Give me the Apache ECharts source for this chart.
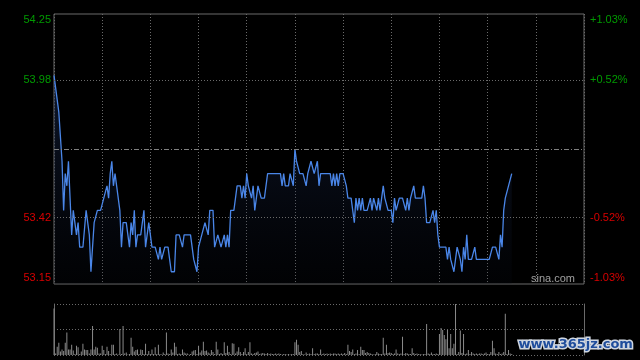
<!DOCTYPE html>
<html>
<head>
<meta charset="utf-8">
<script src="https://cdn.jsdelivr.net/npm/echarts@6/dist/echarts.min.js"></script>
<style>
html,body{margin:0;padding:0;background:#000;}
#chart{width:640px;height:360px;}
</style>
</head>
<body>
<div id="chart"></div>
<script>
// ---- data ----
var prevClose = 53.70;
var priceMin = 53.15;
var priceMax = 54.25;
var totalMinutes = 330;
var leftTickValues = [53.15, 53.42, 53.98, 54.25];
var leftTickLabels = ['53.15', '53.42', '53.98', '54.25'];
var rightTickLabels = ['-1.03%', '-0.52%', '+0.52%', '+1.03%'];
var gridLineValues = [53.42, 53.98];
var prices = [
54.00,53.95,53.90,53.85,53.85,53.65,53.45,53.60,53.55,53.65,
53.50,53.35,53.45,53.45,53.35,53.40,53.30,53.30,53.30,53.30,
53.45,53.45,53.35,53.20,53.20,53.40,53.40,53.45,53.45,53.45,
53.45,53.50,53.50,53.55,53.50,53.60,53.65,53.55,53.60,53.55,
53.55,53.45,53.30,53.40,53.40,53.40,53.40,53.30,53.40,53.35,
53.45,53.30,53.35,53.35,53.35,53.40,53.45,53.30,53.35,53.40,
53.40,53.30,53.30,53.30,53.30,53.25,53.30,53.25,53.25,53.30,
53.30,53.30,53.25,53.20,53.20,53.20,53.35,53.35,53.35,53.35,
53.30,53.35,53.35,53.35,53.35,53.35,53.30,53.25,53.25,53.20,
53.30,53.30,53.35,53.35,53.40,53.40,53.35,53.45,53.45,53.45,
53.30,53.30,53.35,53.35,53.30,53.30,53.35,53.30,53.35,53.30,
53.45,53.45,53.45,53.45,53.55,53.55,53.55,53.50,53.55,53.50,
53.60,53.55,53.55,53.50,53.55,53.45,53.50,53.55,53.55,53.50,
53.50,53.50,53.55,53.60,53.60,53.60,53.60,53.60,53.60,53.60,
53.60,53.60,53.55,53.60,53.55,53.55,53.55,53.60,53.60,53.55,
53.70,53.65,53.65,53.60,53.60,53.60,53.60,53.55,53.60,53.60,
53.65,53.65,53.60,53.60,53.65,53.55,53.60,53.60,53.60,53.60,
53.60,53.60,53.60,53.55,53.60,53.55,53.60,53.55,53.60,53.60,
53.60,53.60,53.55,53.50,53.50,53.50,53.45,53.40,53.50,53.45,
53.50,53.45,53.50,53.45,53.45,53.45,53.45,53.50,53.45,53.50,
53.50,53.45,53.50,53.45,53.45,53.55,53.50,53.50,53.45,53.45,
53.45,53.40,53.50,53.45,53.45,53.50,53.50,53.50,53.50,53.45,
53.50,53.45,53.50,53.50,53.55,53.50,53.50,53.50,53.50,53.50,
53.55,53.50,53.40,53.40,53.40,53.40,53.45,53.40,53.45,53.35,
53.30,53.30,53.30,53.30,53.30,53.25,53.30,53.25,53.25,53.20,
53.25,53.30,53.30,53.25,53.20,53.30,53.25,53.35,53.25,53.25,
53.25,53.25,53.30,53.25,53.25,53.25,53.25,53.25,53.25,53.25,
53.25,53.25,53.25,53.30,53.30,53.30,53.30,53.25,53.35,53.30,
53.45,53.50,53.50,53.55,53.55,53.60
];
var volumes = [
91,3,16,24,7,11,8,24,44,11,
11,20,9,2,18,15,2,7,22,11,
10,10,3,11,57,11,16,14,3,3,
18,10,2,16,8,2,20,20,2,3,
1,51,2,57,3,5,1,2,34,16,
7,10,11,2,11,10,2,22,2,8,
2,11,2,15,2,20,2,1,5,2,
44,3,2,11,5,24,16,2,3,2,
11,5,3,3,1,2,7,9,10,2,
18,5,9,26,8,9,5,3,10,6,
2,26,11,2,4,2,25,4,18,6,
2,23,22,3,7,15,6,2,6,13,
2,6,25,3,2,4,5,7,2,3,
4,3,2,4,2,3,2,2,3,2,
3,2,1,2,2,1,2,1,2,2,
25,30,20,6,8,2,1,5,2,3,
2,13,2,3,3,2,11,2,3,2,
3,2,3,2,3,3,2,3,2,3,
2,4,2,20,8,6,11,2,3,10,
2,16,10,10,4,6,4,3,2,1,
2,6,3,2,2,34,3,20,4,5,
4,2,3,11,3,2,3,36,2,4,
3,2,2,13,4,2,3,2,2,1,
2,2,61,3,2,5,2,2,3,2,
41,53,49,39,31,49,13,41,13,22,
100,2,6,48,4,41,2,3,10,2,
6,3,2,3,2,3,3,2,3,5,
2,2,6,28,13,3,2,6,2,3,
6,81,2,10,3,2
];
var volumeMax = 100;

// ---- build ----
var pricePts = prices.map(function (v, i) { return [i, v]; });
var volPts = volumes.map(function (v, i) { return [i, v]; });

var font = '"Liberation Sans", Arial, sans-serif';
var green = '#009a00', red = '#d80000';

function richFor(v, text) {
  var isUp = v > prevClose;
  var key = (isUp ? 'g' : 'r');
  if (v === priceMax) key += 't';
  if (v === priceMin) key += 'b';
  return '{' + key + '|' + text + '}';
}
var rich = {
  g: {color: green, fontSize: 11, fontFamily: font},
  r: {color: red, fontSize: 11, fontFamily: font},
  gt: {color: green, fontSize: 11, fontFamily: font, padding: [12, 0, 0, 0]},
  rb: {color: red, fontSize: 11, fontFamily: font, padding: [0, 0, 12, 0]}
};

var chart = echarts.init(document.getElementById('chart'), null, {renderer: 'canvas'});
chart.setOption({
  backgroundColor: '#000',
  animation: false,
  grid: [
    {left: 54, right: 56, top: 14, height: 270, show: true, borderColor: '#6a6a6a', borderWidth: 1, backgroundColor: 'transparent'},
    {left: 54, right: 56, top: 304, height: 51, show: false}
  ],
  xAxis: [
    {type: 'value', gridIndex: 0, min: 0, max: totalMinutes, interval: 30,
     axisLine: {show: false}, axisTick: {show: false}, axisLabel: {show: false},
     splitLine: {show: true, lineStyle: {color: '#6a6a6a', type: [1, 2], width: 1}}},
    {type: 'value', gridIndex: 1, min: 0, max: totalMinutes,
     axisLine: {show: false}, axisTick: {show: false}, axisLabel: {show: false}, splitLine: {show: false}}
  ],
  yAxis: [
    {type: 'value', gridIndex: 0, min: priceMin, max: priceMax, position: 'left',
     axisLine: {show: false}, axisTick: {show: false, customValues: leftTickValues}, splitLine: {show: false},
     axisLabel: {show: true, customValues: leftTickValues, margin: 3, rich: rich,
       formatter: function (v) { var k = leftTickValues.indexOf(v); return richFor(v, leftTickLabels[k]); }}},
    {type: 'value', gridIndex: 0, min: priceMin, max: priceMax, position: 'right',
     axisLine: {show: false}, axisTick: {show: false, customValues: leftTickValues}, splitLine: {show: false},
     axisLabel: {show: true, customValues: leftTickValues, margin: 6, rich: rich,
       formatter: function (v) { var k = leftTickValues.indexOf(v); return richFor(v, rightTickLabels[k]); }}},
    {type: 'value', gridIndex: 1, min: 0, max: volumeMax, interval: volumeMax / 2, position: 'left',
     axisLine: {show: true, lineStyle: {color: '#6a6a6a'}}, axisTick: {show: false}, axisLabel: {show: false},
     splitLine: {show: true, lineStyle: {color: '#6a6a6a', type: [1, 2], width: 1}}},
    {type: 'value', gridIndex: 1, min: 0, max: volumeMax, position: 'right',
     axisLine: {show: true, lineStyle: {color: '#6a6a6a'}}, axisTick: {show: false}, axisLabel: {show: false},
     splitLine: {show: false}}
  ],
  series: [
    {type: 'line', xAxisIndex: 0, yAxisIndex: 0, data: pricePts, symbol: 'none', z: 3,
     lineStyle: {color: '#4a86e8', width: 1.3},
     areaStyle: {origin: 'start', color: new echarts.graphic.LinearGradient(0, 0, 0, 1, [
       {offset: 0, color: 'rgba(35,60,115,0.55)'}, {offset: 1, color: 'rgba(10,15,30,0.2)'}])},
     markLine: {silent: true, symbol: 'none', label: {show: false}, animation: false,
       data: [
         {yAxis: gridLineValues[0], lineStyle: {color: '#6a6a6a', type: [1, 2], width: 1}},
         {yAxis: gridLineValues[1], lineStyle: {color: '#6a6a6a', type: [1, 2], width: 1}},
         {yAxis: prevClose, lineStyle: {color: '#808080', type: [5, 2, 1, 2], width: 1}}
       ]}},
    {type: 'bar', xAxisIndex: 1, yAxisIndex: 2, data: volPts, barWidth: 1,
     itemStyle: {color: '#8a8a8a'}}
  ],
  graphic: [
    {type: 'text', left: 531, top: 273, silent: true,
     style: {text: 'sina.com', fill: '#a0a0a0', font: '11px ' + font}},
    {type: 'text', left: 517, top: 337, silent: true, z: 100,
     style: {text: 'www.365jz.com', fill: '#1f4d9c', stroke: '#cfd6e0', lineWidth: 3,
       font: 'bold 13px "DejaVu Sans", sans-serif'}}
  ]
});
</script>
</body>
</html>
